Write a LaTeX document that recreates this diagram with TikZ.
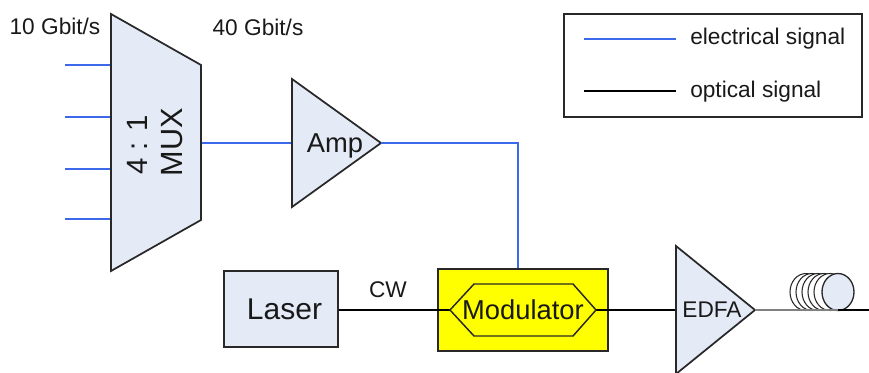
\documentclass[tikz,border=0pt]{standalone}
\usepackage{fontspec}
\setmainfont{Liberation Sans}
\definecolor{boxfill}{RGB}{228,234,246}
\definecolor{elec}{RGB}{60,105,235}
\definecolor{edge}{RGB}{40,40,40}
\definecolor{txt}{RGB}{25,25,25}
\definecolor{pureyellow}{RGB}{255,255,0}
\tikzset{
  shapebox/.style={draw=edge,fill=boxfill,line width=1.3pt,line join=miter},
  elecline/.style={draw=elec,line width=1pt},
  optline/.style={draw=black,line width=1pt},
  lab/.style={text=txt,inner sep=0pt,font=\fontsize{17}{19}\selectfont},
  biglab/.style={text=txt,inner sep=0pt,font=\fontsize{20.5}{23}\selectfont},
}
\begin{document}
\begin{tikzpicture}[x=0.75pt,y=-0.75pt]
\useasboundingbox (0,0) rectangle (869,372);
\begin{scope}
\clip (0,0) rectangle (869,372);
% named ports
\coordinate (in1) at (65,65); \coordinate (mi1) at (111,65);
\coordinate (in2) at (65,117); \coordinate (mi2) at (111,117);
\coordinate (in3) at (65,169); \coordinate (mi3) at (111,169);
\coordinate (in4) at (65,219); \coordinate (mi4) at (111,219);
\coordinate (muxout) at (201,143);
\coordinate (ampin) at (292,143);
\coordinate (ampout) at (381,143);
\coordinate (bend) at (518,143);
\coordinate (hexl) at (450,310);
\coordinate (hexr) at (596,310);
\coordinate (edfain) at (676,310);
\coordinate (edfaout) at (755,310);
\coordinate (fibreend) at (869,310);
% connectors under shapes
\draw[elecline] (in1) -- (mi1);
\draw[elecline] (in2) -- (mi2);
\draw[elecline] (in3) -- (mi3);
\draw[elecline] (in4) -- (mi4);
\draw[elecline] (muxout) -- (ampin);
% shapes
\draw[shapebox] (111,14) -- (201,65) -- (201,220) -- (111,271) -- cycle;
\draw[shapebox] (292,79) -- (ampout) -- (292,207) -- cycle;
\node[draw=edge,fill=boxfill,line width=1.3pt,minimum width=85.5pt,minimum height=57pt,inner sep=0pt] (laser) at (281,309) {};
\node[draw=edge,fill=pureyellow,line width=1.3pt,minimum width=127.5pt,minimum height=61.5pt,inner sep=0pt] (mod) at (523,310) {};
\draw[elecline] (ampout) -- (bend) -- (bend |- mod.north);
\draw[optline] (laser.east |- hexl) -- (hexl);
\draw[optline] (hexr) -- (edfain);
\draw[draw=edge,line width=1.1pt] (hexl) -- (474,284) -- (573,284) -- (hexr) -- (573,336) -- (474,336) -- cycle;
\draw[shapebox] (676,246) -- (edfaout) -- (676,374) -- cycle;
% fibre coil
\foreach \cx in {806,812,818,824,830}
  \draw[draw=edge,line width=0.8pt,fill=white] (\cx,292) ellipse [x radius=16,y radius=18.5];
\draw[draw=edge,line width=1pt,fill=boxfill] (838,292) ellipse [x radius=16,y radius=18.5];
\draw[draw=gray,line width=1pt] (edfaout) -- (838,310);
\draw[optline] (838,310) -- (fibreend);
% labels
\node[lab] (t10) at (55,26) {10 Gbit/s};
\node[lab] (t40) at (258,27) {40 Gbit/s};
\node[biglab,rotate=90,font=\fontsize{22}{24}\selectfont] (m1) at (137,145) {4 : 1};
\node[lab,rotate=90,font=\fontsize{23}{25}\selectfont] (m2) at (172,142) {MUX};
\node[biglab] (tamp) at (335,146) {Amp};
\node[biglab,font=\fontsize{22.5}{25}\selectfont] (tlaser) at (284.5,309) {Laser};
\node[lab] (tcw) at (388,290) {CW};
\node[biglab] (tmod) at (523,310) {Modulator};
\node[lab] (tedfa) at (712,310) {EDFA};
% legend
\node[draw=edge,line width=1.1pt,minimum width=223.5pt,minimum height=77.25pt,inner sep=0pt] (legend) at (713,65.5) {};
\coordinate (l1a) at (584,39); \coordinate (l1b) at (676,39);
\coordinate (l2a) at (584,91); \coordinate (l2b) at (676,91);
\draw[elecline] (l1a) -- (l1b);
\draw[optline] (l2a) -- (l2b);
\node[lab,anchor=west] (le) at (690,39) {electrical signal};
\node[lab,anchor=west] (lo) at (690,92) {optical signal};
\end{scope}
\end{tikzpicture}
\end{document}
